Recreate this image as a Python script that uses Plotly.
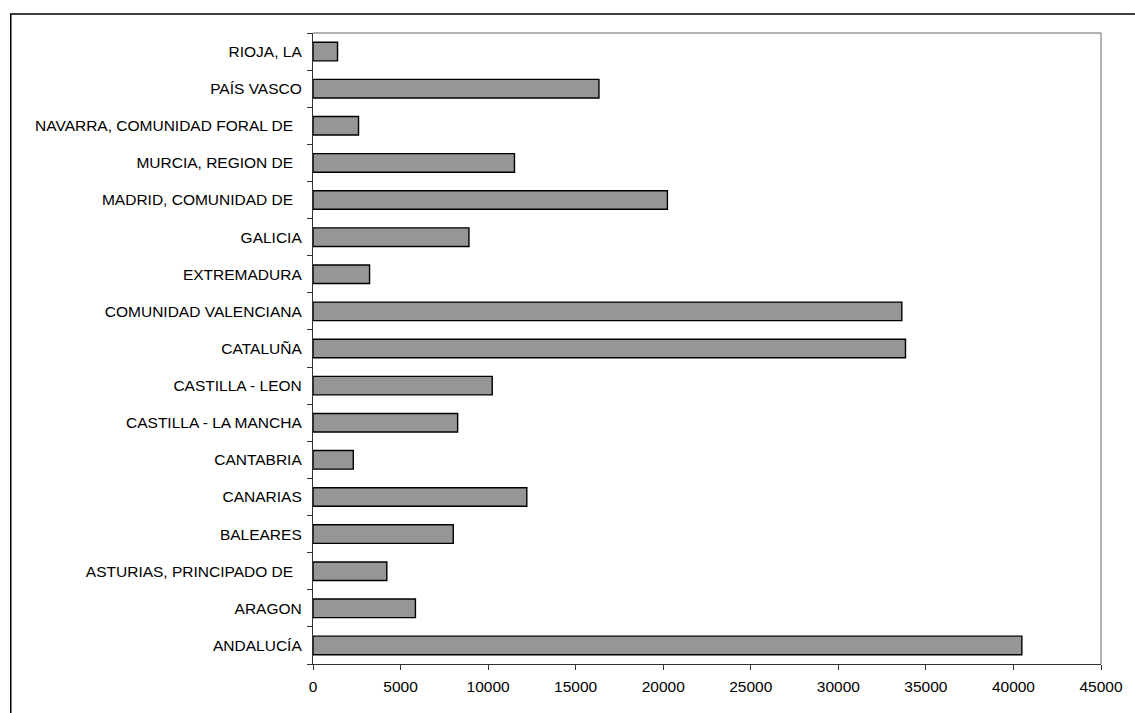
import plotly.graph_objects as go

regions = [
    "ANDALUCÍA",
    "ARAGON",
    "ASTURIAS, PRINCIPADO DE\u00a0\u00a0",
    "BALEARES",
    "CANARIAS",
    "CANTABRIA",
    "CASTILLA - LA MANCHA",
    "CASTILLA - LEON",
    "CATALUÑA",
    "COMUNIDAD VALENCIANA",
    "EXTREMADURA",
    "GALICIA",
    "MADRID, COMUNIDAD DE\u00a0\u00a0",
    "MURCIA, REGION DE\u00a0\u00a0",
    "NAVARRA, COMUNIDAD FORAL DE\u00a0\u00a0",
    "PAÍS VASCO",
    "RIOJA, LA",
]
values = [40480, 5850, 4215, 8010, 12210, 2300, 8260, 10235, 33835, 33625,
          3230, 8905, 20240, 11505, 2600, 16330, 1400]

x_ticks = [0, 5000, 10000, 15000, 20000, 25000, 30000, 35000, 40000, 45000]

W, H = 1135, 713
L, R, T, B = 313, 1103, 33, 664

fig = go.Figure(go.Bar(
    y=regions, x=values, orientation="h",
    marker=dict(color="#969696", line=dict(color="#000000", width=1.4)),
    width=0.5,
))

font = dict(family="Liberation Sans, Arial, sans-serif", size=15.5, color="#000000")

fig.update_layout(
    width=W, height=H,
    margin=dict(l=L, r=W - R, t=T, b=H - B, pad=0),
    paper_bgcolor="white", plot_bgcolor="white",
    showlegend=False,
    font=font,
    xaxis=dict(
        range=[0, 45000], tickvals=x_ticks, ticktext=[str(v) for v in x_ticks],
        showgrid=False, zeroline=False,
        showline=True, linecolor="#333333", linewidth=1.3,
        ticks="outside", ticklen=5, tickcolor="#333333", tickwidth=1.3,
        ticklabelstandoff=3,
        tickfont=font,
    ),
    yaxis=dict(
        type="category", categoryorder="array", categoryarray=regions,
        range=[-0.5, len(regions) - 0.5],
        showgrid=False, zeroline=False,
        showline=True, linecolor="#333333", linewidth=1.3,
        ticks="outside", ticklen=5, tickcolor="#333333", tickwidth=1.3,
        tickson="boundaries",
        ticklabelstandoff=7,
        tickfont=font,
    ),
    shapes=[
        # plot-area frame (top/right in grey)
        dict(type="line", xref="paper", yref="paper", x0=0, x1=1, y0=1, y1=1,
             line=dict(color="#999999", width=1.5), layer="below"),
        dict(type="line", xref="paper", yref="paper", x0=1, x1=1, y0=0, y1=1,
             line=dict(color="#999999", width=1.5), layer="below"),
        # outer chart border
        dict(type="rect", xref="paper", yref="paper",
             x0=(10 - L) / (R - L), x1=(1140 - L) / (R - L),
             y0=(B - 720) / (B - T), y1=(B - 14) / (B - T),
             line=dict(color="#000000", width=1.5), fillcolor="rgba(0,0,0,0)",
             layer="below"),
    ],
)

fig.write_html("out.html")
